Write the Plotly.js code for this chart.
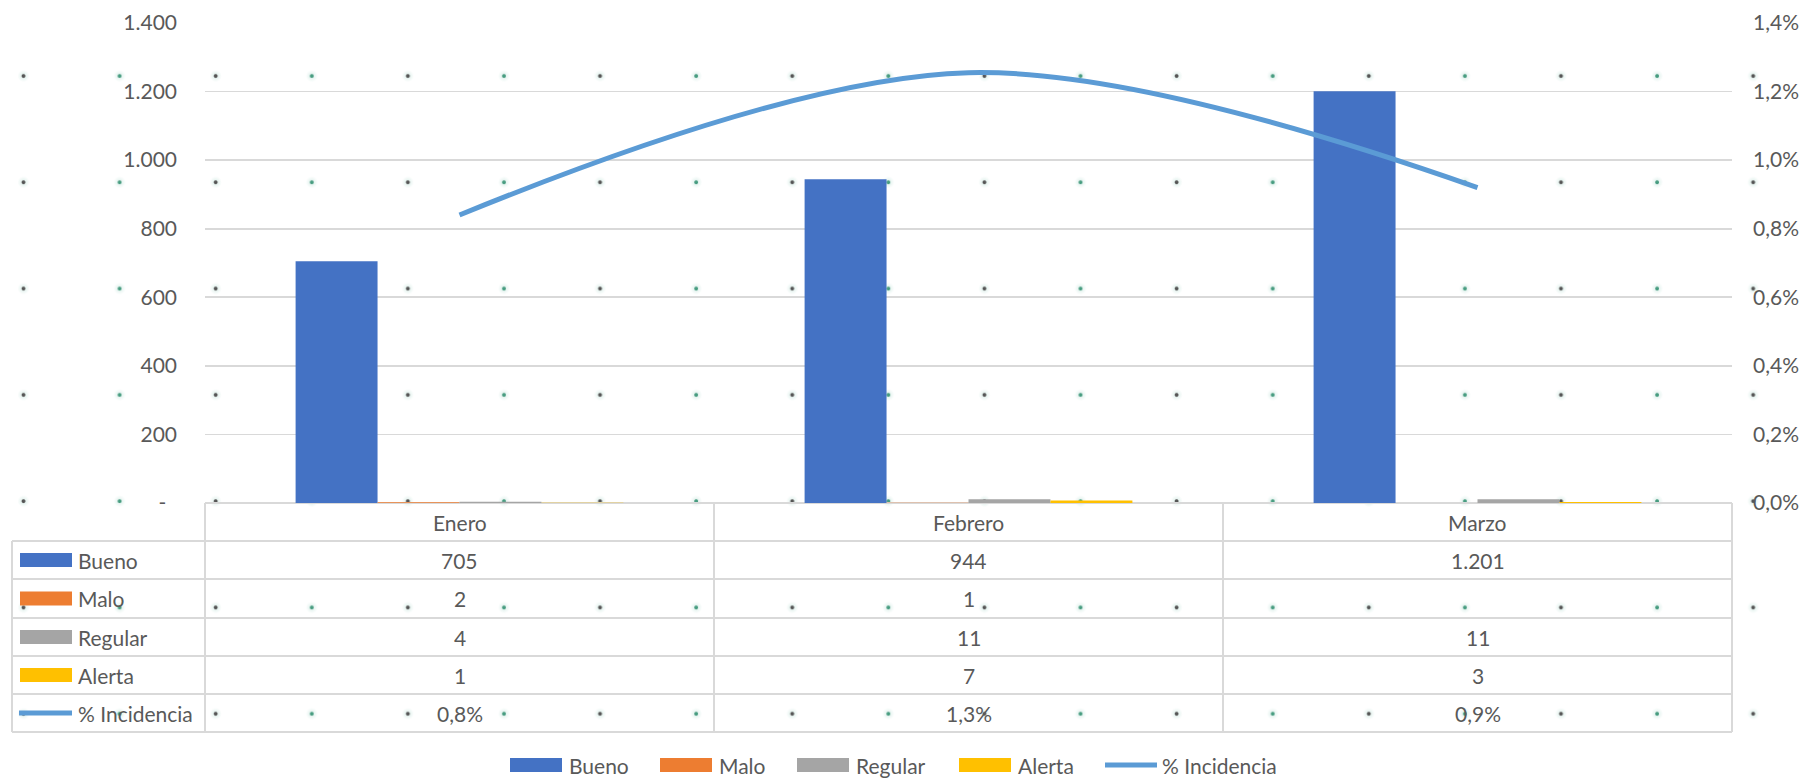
<!DOCTYPE html>
<html><head><meta charset="utf-8">
<script src="https://cdn.plot.ly/plotly-3.0.1.min.js"></script>
<style>
html,body{margin:0;padding:0;width:1805px;height:779px;overflow:hidden;background:#fff;}
#bg{position:absolute;left:0;top:0;width:1805px;height:779px;
background-image:
 radial-gradient(circle at 23.5px 23px, rgba(75,75,75,0.95) 0, rgba(75,75,75,0.95) 1.4px, rgba(190,225,215,0.35) 2.4px, rgba(255,255,255,0) 6px),
 radial-gradient(circle at 119.6px 23px, rgba(60,150,120,0.95) 0, rgba(60,150,120,0.95) 1.4px, rgba(190,225,215,0.35) 2.4px, rgba(255,255,255,0) 6px);
background-size:192.2px 106.3px;background-position:0 53px;background-repeat:repeat;}
#chart{position:absolute;left:0;top:0;width:1805px;height:779px;}
</style></head>
<body><div id="bg"></div><div id="chart"></div>
<script>
// ---- data ----
const months = ['Enero', 'Febrero', 'Marzo'];
const bueno = [705, 944, 1201];
const malo = [2, 1, null];
const regular = [4, 11, 11];
const alerta = [1, 7, 3];
const incidencia = [0.0084, 0.01255, 0.0092];
const seriesNames = ['Bueno', 'Malo', 'Regular', 'Alerta', '% Incidencia'];
const leftTickVals = [0, 200, 400, 600, 800, 1000, 1200, 1400];
const leftTickText = ['-\u00a0\u00a0', '200', '400', '600', '800', '1.000', '1.200', '1.400'];
const rightTickVals = [0, 0.002, 0.004, 0.006, 0.008, 0.010, 0.012, 0.014];
const rightTickText = ['0,0%', '0,2%', '0,4%', '0,6%', '0,8%', '1,0%', '1,2%', '1,4%'];

// ---- styles ----
const colors = ['#4472C4', '#ED7D31', '#A5A5A5', '#FFC000', '#5B9BD5'];
const FONT = 'Lato, "Open Sans", sans-serif';
const TXT = '#595959';
const GRID = '#D9D9D9';
const L = 205, R = 1732, T = 23, B = 503, W = 1805, H = 779;
const px2x = p => (p - L) / (R - L);
const py2y = p => (B - p) / (B - T);

const fmtInt = v => v == null ? '' : String(v).replace(/\B(?=(\d{3})+(?!\d))/g, '.');
const fmtPct = v => v == null ? '' : (Math.round(v * 1000) / 10).toFixed(1).replace('.', ',') + '%';

const barSeries = [bueno, malo, regular, alerta];
const traces = barSeries.map((vals, i) => ({
  type: 'bar', x: months, y: vals, name: seriesNames[i],
  marker: {color: colors[i], line: {width: 0}}, hoverinfo: 'x+y'
}));
traces.push({
  type: 'scatter', mode: 'lines', x: months, y: incidencia, yaxis: 'y2',
  name: seriesNames[4], line: {color: colors[4], width: 5, shape: 'spline', smoothing: 1}
});

// ---- data table ----
const rowsY = [503, 541, 579, 618, 656, 694, 732];
const rowC = i => (rowsY[i] + rowsY[i + 1]) / 2;
const shapes = [];
const annotations = [];
const lineStyle = {color: GRID, width: 2};
rowsY.forEach((y, i) => {
  shapes.push({type: 'line', xref: 'paper', yref: 'paper', x0: px2x(i === 0 ? L : 12), x1: px2x(R), y0: py2y(y), y1: py2y(y), line: lineStyle, layer: 'below'});
});
for (let k = 0; k <= months.length; k++) {
  const xp = L + (R - L) * k / months.length;
  shapes.push({type: 'line', xref: 'paper', yref: 'paper', x0: px2x(xp), x1: px2x(xp), y0: py2y(503), y1: py2y(732), line: lineStyle, layer: 'below'});
}
shapes.push({type: 'line', xref: 'paper', yref: 'paper', x0: px2x(12), x1: px2x(12), y0: py2y(541), y1: py2y(732), line: lineStyle, layer: 'below'});

const tf = {family: FONT, size: 21, color: TXT};
months.forEach(m => annotations.push({xref: 'x', yref: 'paper', x: m, y: py2y(rowC(0)), text: m, showarrow: false, font: tf, xanchor: 'center', yanchor: 'middle'}));
const rowVals = [bueno, malo, regular, alerta, incidencia];
rowVals.forEach((vals, r) => {
  const yc = rowC(r + 1);
  vals.forEach((v, j) => {
    const t = r === 4 ? fmtPct(v) : fmtInt(v);
    if (t) annotations.push({xref: 'x', yref: 'paper', x: months[j], y: py2y(yc), text: t, showarrow: false, font: tf, xanchor: 'center', yanchor: 'middle'});
  });
  if (r < 4) {
    shapes.push({type: 'rect', xref: 'paper', yref: 'paper', x0: px2x(20), x1: px2x(72), y0: py2y(yc - 7), y1: py2y(yc + 7), fillcolor: colors[r], line: {width: 0}});
  } else {
    shapes.push({type: 'line', xref: 'paper', yref: 'paper', x0: px2x(19), x1: px2x(72), y0: py2y(yc), y1: py2y(yc), line: {color: colors[4], width: 5}});
  }
  annotations.push({xref: 'paper', yref: 'paper', x: px2x(76), y: py2y(yc), text: seriesNames[r], showarrow: false, font: tf, xanchor: 'left', yanchor: 'middle'});
});

// ---- bottom legend ----
const legX = [510, 660, 797, 959, 1103];
const legY = 765;
seriesNames.forEach((n, i) => {
  const x0 = legX[i];
  if (i < 4) {
    shapes.push({type: 'rect', xref: 'paper', yref: 'paper', x0: px2x(x0), x1: px2x(x0 + 52), y0: py2y(legY - 7), y1: py2y(legY + 7), fillcolor: colors[i], line: {width: 0}});
  } else {
    shapes.push({type: 'line', xref: 'paper', yref: 'paper', x0: px2x(x0 + 2), x1: px2x(x0 + 54), y0: py2y(legY), y1: py2y(legY), line: {color: colors[4], width: 5}});
  }
  annotations.push({xref: 'paper', yref: 'paper', x: px2x(x0 + 57), y: py2y(legY), text: n, showarrow: false, font: tf, xanchor: 'left', yanchor: 'middle'});
});

const layout = {
  width: W, height: H,
  margin: {l: L, r: W - R, t: T, b: H - B, autoexpand: false},
  paper_bgcolor: 'rgba(0,0,0,0)', plot_bgcolor: 'rgba(0,0,0,0)',
  showlegend: false,
  barmode: 'group', bargap: 0.356, bargroupgap: 0,
  separators: ',.',
  font: {family: FONT, color: TXT, size: 21},
  xaxis: {type: 'category', showticklabels: false, ticks: '', showgrid: false, zeroline: false, showline: false, range: [-0.5, 2.5], fixedrange: true},
  yaxis: {range: [0, 1400], tickvals: leftTickVals, ticktext: leftTickText, showgrid: true, gridcolor: GRID, gridwidth: 1.6, zeroline: false, showline: false, ticks: '', ticklabelstandoff: 27, tickfont: {family: FONT, size: 21, color: TXT}},
  yaxis2: {overlaying: 'y', side: 'right', range: [0, 0.014], tickvals: rightTickVals, ticktext: rightTickText, showgrid: false, zeroline: false, showline: false, ticks: '', ticklabelstandoff: 20, tickfont: {family: FONT, size: 21, color: TXT}},
  shapes: shapes,
  annotations: annotations
};

Plotly.newPlot('chart', traces, layout, {displayModeBar: false, staticPlot: true});
</script>
</body></html>
